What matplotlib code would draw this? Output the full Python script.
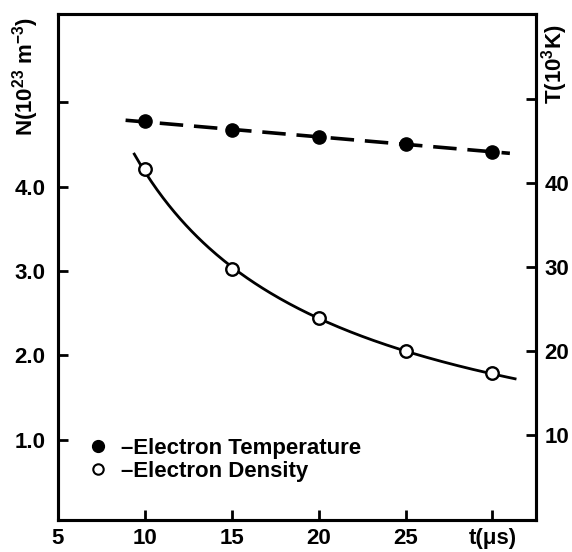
"""
plot.py - Electron temperature and density versus time (twin y axes).
"""

import numpy as np
import matplotlib

matplotlib.use("Agg")
import matplotlib.pyplot as plt
from matplotlib.lines import Line2D

# Values
t_us = [10, 15, 20, 25, 30]                       # time (us)
temperature = [47.3, 46.3, 45.4, 44.6, 43.7]      # T (10^3 K)
density = [4.21, 3.02, 2.44, 2.05, 1.79]          # N (10^23 m^-3)

# range over which the fitted curves are drawn
temp_span = [8.9, 31.0]
dens_span = [9.4, 31.3]

x_ticks = [5, 10, 15, 20, 25, 30]
x_ticklabels = ["5", "10", "15", "20", "25", "t(\u03bcs)"]
n_ticks = [1, 2, 3, 4, 5]
n_ticklabels = ["1.0", "2.0", "3.0", "4.0", ""]
t_ticks = [10, 20, 30, 40, 50]
t_ticklabels = ["10", "20", "30", "40", ""]

plt.rcParams["font.family"] = ["Liberation Sans", "DejaVu Sans"]
plt.rcParams["font.weight"] = "bold"
plt.rcParams["mathtext.default"] = "regular"

FS = 16
LW = 2.2

fig = plt.figure(figsize=(5.72, 5.52), dpi=100)
ax = fig.add_axes([0.101, 0.058, 0.836, 0.917])
ax2 = ax.twinx()

# temperature: straight dashed fit through the points
tt = np.array(t_us, dtype=float)
p_lin = np.polyfit(tt, temperature, 1)
xs_t = np.linspace(temp_span[0], temp_span[1], 50)
ax2.plot(xs_t, np.polyval(p_lin, xs_t), color="black", lw=2.6, dashes=(6.5, 3.0))
ax2.plot(t_us, temperature, "o", color="black", ms=9.5)

# density: smooth power-law fit through the points
p_pow = np.polyfit(np.log(tt), np.log(density), 1)
xs_n = np.linspace(dens_span[0], dens_span[1], 200)
ax.plot(xs_n, np.exp(np.polyval(p_pow, np.log(xs_n))), color="black", lw=2.0)
ax.plot(t_us, density, "o", color="black", mfc="white", mew=1.7, ms=9)

ax.set_xlim(5, 32.5)
ax.set_ylim(0.05, 6.05)
ax2.set_ylim(-0.12, 60.1)

ax.set_xticks(x_ticks)
ax.set_xticklabels(x_ticklabels, fontsize=FS)
ax.set_yticks(n_ticks)
ax.set_yticklabels(n_ticklabels, fontsize=FS)
ax2.set_yticks(t_ticks)
ax2.set_yticklabels(t_ticklabels, fontsize=FS)

for a in (ax, ax2):
    for s in a.spines.values():
        s.set_linewidth(LW)
    a.tick_params(direction="in", length=7, width=2.0, pad=6)
ax.tick_params(axis="y", pad=9)

fig.text(0.045, 0.862, "N(10$^{23}$ m$^{-3}$)", rotation=90, ha="center",
         va="center", fontsize=FS)
fig.text(0.97, 0.883, "T(10$^{3}$K)", rotation=90, ha="center",
         va="center", fontsize=FS)

handles = [
    Line2D([], [], ls="none", marker="o", color="black", ms=8.5),
    Line2D([], [], ls="none", marker="o", color="black", mfc="white",
           mew=1.5, ms=7.5),
]
ax.legend(handles, ["\u2013Electron Temperature", "\u2013Electron Density"],
          loc="lower left", bbox_to_anchor=(0.047, 0.053), frameon=False,
          fontsize=FS, handlelength=0.6, handletextpad=0.75,
          labelspacing=0.1, borderpad=0)

fig.savefig("out.png", dpi=100)
